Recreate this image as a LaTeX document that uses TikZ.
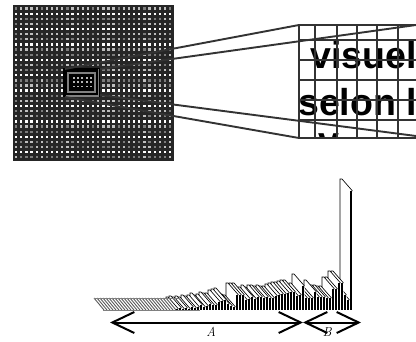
\documentclass[tikz,border=0pt]{standalone}
\usepackage{fontspec}
\setsansfont{Liberation Sans}
\usepackage{tikz}
\usetikzlibrary{arrows.meta}

\definecolor{gridgray}{HTML}{333333}
\def\barheights{119,10,15,27,27,21,21,12,12,13,13,13,18,12,12,12,24,15,14,18,18,17,16,16,15,14,12,12,13,12,13,13,11,13,11,10,15,15,15,3,4,6,10,9,8,5,5,6,4,3,5,3,2,3,1,2,1,2,1}

\begin{document}
\begin{tikzpicture}[x=1pt,y=-1pt,
   zoomline/.style={gridgray,line width=1.9pt},
   barface/.style={draw=black,line width=0.65pt},
   flatface/.style={draw=black!65,line width=0.9pt},
   span/.style={{Straight Barb[length=22pt,width=21pt]}-{Straight Barb[length=22pt,width=21pt]},line width=2pt},
   bigtext/.style={font=\sffamily\bfseries\fontsize{37.5}{38}\selectfont,inner sep=0pt,anchor=base west},
   spanlabel/.style={font=\itshape\fontsize{13}{13}\selectfont,inner sep=0pt}]
\useasboundingbox (0,0) rectangle (416,341);
% page thumbnail
\fill[black!85] (13,5) rectangle (174,161);
\foreach \r in {0,...,29} {
   \foreach \c in {0,...,30} {
      \pgfmathsetmacro\dotop{mod(\r,3)==1 ? 1 : (mod(\r*7+\c*\c*3,5)<2 ? 0.4 : 0.7)}
      \fill[white,opacity=\dotop] (15+5.13*\c,7.4+5.13*\r) rectangle +(2.3,2.3);
   }
}
% zoomed area on the page
\fill[black] (63,68) rectangle (100,97);
\draw[gray,line width=2pt] (68,73) rectangle (95,92);
\draw[gray,line width=1.5pt] (98.5,69) -- (98.5,96) -- (66,96);
\foreach \c/\r in {0/0,1/0,2/0,3/0,4/0,0/1,1/1,2/1,3/1,4/1,0/2,1/2,2/2,3/2,4/2} {
   \fill[white,opacity=0.7] (72.5+4.4*\c,77+4.3*\r) rectangle +(2,1.7);
}
\coordinate (boxnw) at (65,69);
\coordinate (boxne) at (100,69);
\coordinate (boxsw) at (65,97);
\coordinate (boxse) at (100,95);
\coordinate (gridnw) at (299,25);
\coordinate (gridne) at (416,25);
\coordinate (gridsw) at (299,138);
\coordinate (gridse) at (416,136);
% enlarged text
\begin{scope}
\clip (299,25) rectangle (416,138);
\node[bigtext] (word1) at (310,68) {visuel};
\node[bigtext] (word2) at (298,115) {selon l};
\node[bigtext] (word3) at (318,153) {v};
\end{scope}
\foreach \x in {299,315,337,357,377,398} {
   \draw[zoomline] (\x,25) -- (\x,138);
}
\foreach \y in {25,40,60,80,100,120,138} {
   \draw[zoomline] (299,\y) -- (416,\y);
}
\draw[zoomline] (boxnw) -- (gridnw);
\draw[zoomline] (boxne) -- (gridne);
\draw[zoomline] (boxsw) -- (gridsw);
\draw[zoomline] (boxse) -- (gridse);
% histogram, walls from the right and then the bars
\foreach \h [count=\k from 0] in \barheights {
   \pgfmathsetmacro\bx{350-3*\k}
   \fill[white] (\bx,310) -- (\bx-10,298) -- (\bx-10,298-\h) -- (\bx-8,298-\h) -- (\bx+2.5,310-\h) -- (\bx+2.5,310) -- cycle;
   \draw[barface] (\bx-10,298) -- (\bx-10,298-\h) -- (\bx-8,298-\h) -- (\bx+2.5,310-\h);
}
\foreach \k in {0,...,24} {
   \pgfmathsetmacro\bx{176-3*\k}
   \draw[flatface] (\bx,310) -- (\bx-10,298);
}
\draw[gray,line width=0.8pt] (94,298) -- (180,298);
\draw[gray,line width=0.8pt] (103,310) -- (200,310);
\foreach \h [count=\k from 0] in \barheights {
   \pgfmathsetmacro\bx{350-3*\k}
   \fill[black] (\bx,310) rectangle (\bx+2.4,310-\h);
}
% spans under the histogram
\coordinate (spanleft) at (110,322.5);
\coordinate (spanmid) at (303,322.5);
\coordinate (spanright) at (361,322.5);
\draw[span] (spanleft) -- (spanmid);
\draw[span] (spanmid) -- (spanright);
\node[spanlabel] (labela) at (211,332) {A};
\node[spanlabel] (labelb) at (327,332) {B};
\end{tikzpicture}
\end{document}
